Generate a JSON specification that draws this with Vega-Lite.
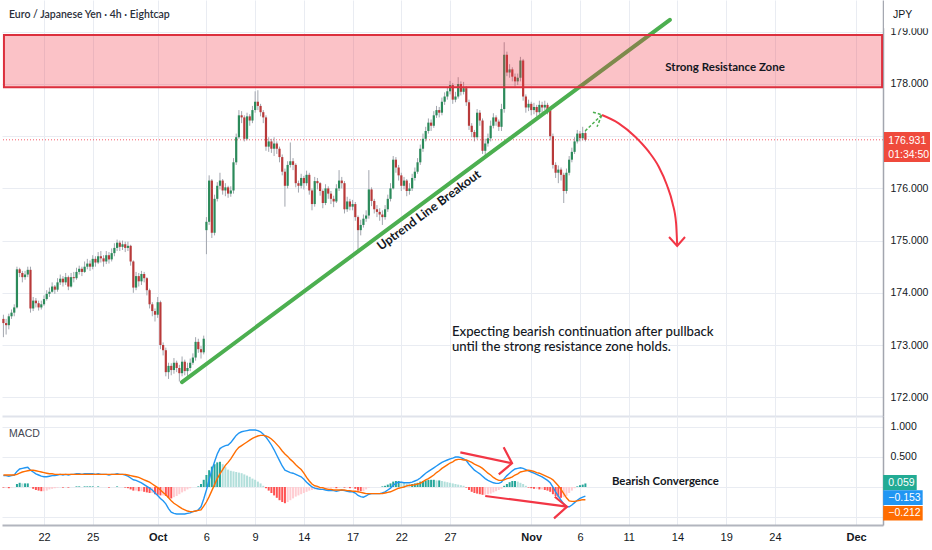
{
"$schema":"https://vega.github.io/schema/vega-lite/v6.json",
"padding":0,
"spacing":0,
"background":"white",
"config":{"view":{"stroke":null},"font":"Liberation Sans, sans-serif","axis":{"labelFont":"Liberation Sans, sans-serif","labelFontSize":10.5,"labelColor":"#131722","ticks":false,"gridColor":"#e9ecf2"}},
"resolve":{"scale":{"x":"independent","y":"independent","color":"independent"}},
"datasets":{"bars":[
{"i":0,"o":173.5,"h":173.58,"l":173.15,"c":173.42,"m":0.19,"s":0.2,"d":-0.01},
{"i":1,"o":173.42,"h":173.5,"l":173.2,"c":173.38,"m":0.19,"s":0.2,"d":-0.01},
{"i":2,"o":173.38,"h":173.6,"l":173.3,"c":173.55,"m":0.18,"s":0.2,"d":-0.02},
{"i":3,"o":173.55,"h":173.68,"l":173.5,"c":173.62,"m":0.19,"s":0.2,"d":-0.01},
{"i":4,"o":173.62,"h":173.78,"l":173.55,"c":173.72,"m":0.2,"s":0.2,"d":0},
{"i":5,"o":173.72,"h":174.5,"l":173.7,"c":174.45,"m":0.26,"s":0.21,"d":0.05},
{"i":6,"o":174.45,"h":174.48,"l":174.3,"c":174.38,"m":0.3,"s":0.23,"d":0.07},
{"i":7,"o":174.38,"h":174.42,"l":174.2,"c":174.3,"m":0.31,"s":0.25,"d":0.06},
{"i":8,"o":174.3,"h":174.42,"l":174.25,"c":174.35,"m":0.32,"s":0.26,"d":0.06},
{"i":9,"o":174.35,"h":174.5,"l":174.3,"c":174.44,"m":0.33,"s":0.27,"d":0.06},
{"i":10,"o":174.44,"h":174.5,"l":173.62,"c":173.7,"m":0.28,"s":0.28,"d":0},
{"i":11,"o":173.7,"h":173.92,"l":173.65,"c":173.85,"m":0.25,"s":0.28,"d":-0.03},
{"i":12,"o":173.85,"h":173.9,"l":173.72,"c":173.8,"m":0.22,"s":0.27,"d":-0.05},
{"i":13,"o":173.8,"h":173.85,"l":173.66,"c":173.72,"m":0.2,"s":0.26,"d":-0.06},
{"i":14,"o":173.72,"h":173.85,"l":173.68,"c":173.78,"m":0.18,"s":0.25,"d":-0.07},
{"i":15,"o":173.78,"h":173.95,"l":173.75,"c":173.88,"m":0.17,"s":0.24,"d":-0.07},
{"i":16,"o":173.88,"h":174.05,"l":173.85,"c":173.98,"m":0.17,"s":0.23,"d":-0.06},
{"i":17,"o":173.98,"h":174.1,"l":173.92,"c":174.02,"m":0.18,"s":0.22,"d":-0.04},
{"i":18,"o":174.02,"h":174.2,"l":174.0,"c":174.12,"m":0.19,"s":0.22,"d":-0.03},
{"i":19,"o":174.12,"h":174.15,"l":173.98,"c":174.06,"m":0.19,"s":0.21,"d":-0.02},
{"i":20,"o":174.06,"h":174.28,"l":174.02,"c":174.2,"m":0.2,"s":0.21,"d":-0.01},
{"i":21,"o":174.2,"h":174.35,"l":174.15,"c":174.27,"m":0.21,"s":0.21,"d":0},
{"i":22,"o":174.27,"h":174.32,"l":174.12,"c":174.2,"m":0.2,"s":0.21,"d":-0.01},
{"i":23,"o":174.2,"h":174.38,"l":174.15,"c":174.3,"m":0.21,"s":0.21,"d":0},
{"i":24,"o":174.3,"h":174.33,"l":174.05,"c":174.12,"m":0.2,"s":0.21,"d":-0.01},
{"i":25,"o":174.12,"h":174.38,"l":174.1,"c":174.3,"m":0.21,"s":0.21,"d":0},
{"i":26,"o":174.3,"h":174.4,"l":174.2,"c":174.28,"m":0.21,"s":0.21,"d":0},
{"i":27,"o":174.28,"h":174.48,"l":174.25,"c":174.4,"m":0.22,"s":0.21,"d":0.01},
{"i":28,"o":174.4,"h":174.52,"l":174.35,"c":174.46,"m":0.22,"s":0.21,"d":0.01},
{"i":29,"o":174.46,"h":174.5,"l":174.32,"c":174.4,"m":0.21,"s":0.21,"d":0},
{"i":30,"o":174.4,"h":174.6,"l":174.38,"c":174.5,"m":0.22,"s":0.21,"d":0.01},
{"i":31,"o":174.5,"h":174.65,"l":174.45,"c":174.56,"m":0.22,"s":0.21,"d":0.01},
{"i":32,"o":174.56,"h":174.62,"l":174.42,"c":174.5,"m":0.22,"s":0.21,"d":0.01},
{"i":33,"o":174.5,"h":174.72,"l":174.45,"c":174.65,"m":0.22,"s":0.21,"d":0.01},
{"i":34,"o":174.65,"h":174.7,"l":174.5,"c":174.58,"m":0.21,"s":0.21,"d":0},
{"i":35,"o":174.58,"h":174.78,"l":174.55,"c":174.7,"m":0.22,"s":0.21,"d":0.01},
{"i":36,"o":174.7,"h":174.8,"l":174.58,"c":174.66,"m":0.21,"s":0.21,"d":0},
{"i":37,"o":174.66,"h":174.72,"l":174.5,"c":174.6,"m":0.21,"s":0.21,"d":0},
{"i":38,"o":174.6,"h":174.8,"l":174.55,"c":174.72,"m":0.21,"s":0.21,"d":0},
{"i":39,"o":174.72,"h":174.78,"l":174.56,"c":174.64,"m":0.2,"s":0.21,"d":-0.01},
{"i":40,"o":174.64,"h":174.85,"l":174.6,"c":174.76,"m":0.21,"s":0.21,"d":0},
{"i":41,"o":174.76,"h":174.95,"l":174.7,"c":174.86,"m":0.21,"s":0.21,"d":0},
{"i":42,"o":174.86,"h":175.02,"l":174.8,"c":174.96,"m":0.22,"s":0.21,"d":0.01},
{"i":43,"o":174.96,"h":175.0,"l":174.8,"c":174.88,"m":0.21,"s":0.21,"d":0},
{"i":44,"o":174.88,"h":175.0,"l":174.82,"c":174.93,"m":0.21,"s":0.21,"d":0},
{"i":45,"o":174.93,"h":174.98,"l":174.78,"c":174.86,"m":0.2,"s":0.21,"d":-0.01},
{"i":46,"o":174.86,"h":174.98,"l":174.8,"c":174.9,"m":0.18,"s":0.2,"d":-0.02},
{"i":47,"o":174.9,"h":174.92,"l":174.52,"c":174.6,"m":0.15,"s":0.19,"d":-0.04},
{"i":48,"o":174.6,"h":174.62,"l":174.0,"c":174.1,"m":0.12,"s":0.18,"d":-0.06},
{"i":49,"o":174.1,"h":174.4,"l":174.05,"c":174.32,"m":0.11,"s":0.17,"d":-0.06},
{"i":50,"o":174.32,"h":174.38,"l":174.12,"c":174.22,"m":0.09,"s":0.16,"d":-0.07},
{"i":51,"o":174.22,"h":174.42,"l":174.15,"c":174.36,"m":0.07,"s":0.14,"d":-0.07},
{"i":52,"o":174.36,"h":174.4,"l":174.2,"c":174.28,"m":0.04,"s":0.12,"d":-0.08},
{"i":53,"o":174.28,"h":174.3,"l":173.95,"c":174.05,"m":0.01,"s":0.1,"d":-0.09},
{"i":54,"o":174.05,"h":174.08,"l":173.7,"c":173.78,"m":-0.02,"s":0.08,"d":-0.1},
{"i":55,"o":173.78,"h":173.82,"l":173.55,"c":173.65,"m":-0.05,"s":0.05,"d":-0.1},
{"i":56,"o":173.65,"h":173.7,"l":173.45,"c":173.58,"m":-0.1,"s":0.02,"d":-0.12},
{"i":57,"o":173.58,"h":173.92,"l":173.52,"c":173.82,"m":-0.14,"s":-0.01,"d":-0.13},
{"i":58,"o":173.82,"h":173.85,"l":172.92,"c":173.0,"m":-0.19,"s":-0.05,"d":-0.14},
{"i":59,"o":173.0,"h":173.05,"l":172.8,"c":172.9,"m":-0.23,"s":-0.09,"d":-0.14},
{"i":60,"o":172.9,"h":172.95,"l":172.4,"c":172.48,"m":-0.28,"s":-0.13,"d":-0.15},
{"i":61,"o":172.48,"h":172.66,"l":172.35,"c":172.6,"m":-0.36,"s":-0.18,"d":-0.18},
{"i":62,"o":172.6,"h":172.65,"l":172.42,"c":172.52,"m":-0.42,"s":-0.23,"d":-0.19},
{"i":63,"o":172.52,"h":172.75,"l":172.45,"c":172.66,"m":-0.44,"s":-0.27,"d":-0.17},
{"i":64,"o":172.66,"h":172.7,"l":172.48,"c":172.56,"m":-0.45,"s":-0.3,"d":-0.15},
{"i":65,"o":172.56,"h":172.62,"l":172.3,"c":172.46,"m":-0.45,"s":-0.33,"d":-0.12},
{"i":66,"o":172.46,"h":172.78,"l":172.4,"c":172.68,"m":-0.45,"s":-0.36,"d":-0.09},
{"i":67,"o":172.68,"h":172.72,"l":172.42,"c":172.5,"m":-0.45,"s":-0.38,"d":-0.07},
{"i":68,"o":172.5,"h":172.66,"l":172.38,"c":172.56,"m":-0.44,"s":-0.4,"d":-0.04},
{"i":69,"o":172.56,"h":172.74,"l":172.5,"c":172.66,"m":-0.43,"s":-0.41,"d":-0.02},
{"i":70,"o":172.66,"h":172.84,"l":172.62,"c":172.76,"m":-0.41,"s":-0.41,"d":0},
{"i":71,"o":172.76,"h":173.15,"l":172.7,"c":173.06,"m":-0.4,"s":-0.4,"d":0},
{"i":72,"o":173.06,"h":173.12,"l":172.85,"c":172.92,"m":-0.38,"s":-0.39,"d":0.01},
{"i":73,"o":172.92,"h":172.98,"l":172.74,"c":172.86,"m":-0.33,"s":-0.38,"d":0.05},
{"i":74,"o":172.86,"h":173.18,"l":172.82,"c":173.12,"m":-0.2,"s":-0.32,"d":0.12},
{"i":75,"o":175.2,"h":175.45,"l":174.74,"c":175.36,"m":-0.05,"s":-0.25,"d":0.2},
{"i":76,"o":175.36,"h":176.25,"l":175.3,"c":176.15,"m":0.12,"s":-0.16,"d":0.28},
{"i":77,"o":176.15,"h":176.18,"l":175.05,"c":175.15,"m":0.28,"s":-0.06,"d":0.34},
{"i":78,"o":175.15,"h":175.88,"l":175.1,"c":175.8,"m":0.42,"s":0.04,"d":0.38},
{"i":79,"o":175.8,"h":176.12,"l":175.75,"c":176.05,"m":0.55,"s":0.14,"d":0.41},
{"i":80,"o":176.05,"h":176.3,"l":175.98,"c":176.15,"m":0.64,"s":0.22,"d":0.42},
{"i":81,"o":176.15,"h":176.18,"l":175.88,"c":175.96,"m":0.67,"s":0.29,"d":0.38},
{"i":82,"o":175.96,"h":176.1,"l":175.85,"c":176.02,"m":0.69,"s":0.36,"d":0.33},
{"i":83,"o":176.02,"h":176.05,"l":175.82,"c":175.9,"m":0.7,"s":0.41,"d":0.29},
{"i":84,"o":175.9,"h":176.04,"l":175.84,"c":175.96,"m":0.74,"s":0.47,"d":0.27},
{"i":85,"o":175.96,"h":176.58,"l":175.9,"c":176.5,"m":0.8,"s":0.54,"d":0.26},
{"i":86,"o":176.5,"h":177.05,"l":176.45,"c":176.98,"m":0.86,"s":0.61,"d":0.25},
{"i":87,"o":176.98,"h":177.5,"l":176.95,"c":177.4,"m":0.9,"s":0.66,"d":0.24},
{"i":88,"o":177.4,"h":177.48,"l":177.25,"c":177.36,"m":0.92,"s":0.69,"d":0.23},
{"i":89,"o":177.36,"h":177.4,"l":176.9,"c":176.95,"m":0.93,"s":0.72,"d":0.21},
{"i":90,"o":176.95,"h":177.45,"l":176.92,"c":177.38,"m":0.94,"s":0.75,"d":0.19},
{"i":91,"o":177.38,"h":177.42,"l":177.2,"c":177.3,"m":0.95,"s":0.78,"d":0.17},
{"i":92,"o":177.3,"h":177.58,"l":177.25,"c":177.5,"m":0.95,"s":0.81,"d":0.14},
{"i":93,"o":177.5,"h":177.86,"l":177.45,"c":177.66,"m":0.95,"s":0.83,"d":0.12},
{"i":94,"o":177.66,"h":177.88,"l":177.5,"c":177.58,"m":0.94,"s":0.85,"d":0.09},
{"i":95,"o":177.58,"h":177.62,"l":177.38,"c":177.46,"m":0.92,"s":0.86,"d":0.06},
{"i":96,"o":177.46,"h":177.5,"l":177.25,"c":177.36,"m":0.88,"s":0.86,"d":0.02},
{"i":97,"o":177.36,"h":177.4,"l":176.72,"c":176.8,"m":0.83,"s":0.85,"d":-0.02},
{"i":98,"o":176.8,"h":176.98,"l":176.7,"c":176.9,"m":0.77,"s":0.83,"d":-0.06},
{"i":99,"o":176.9,"h":176.95,"l":176.68,"c":176.76,"m":0.7,"s":0.8,"d":-0.1},
{"i":100,"o":176.76,"h":176.98,"l":176.62,"c":176.86,"m":0.62,"s":0.76,"d":-0.14},
{"i":101,"o":176.86,"h":176.9,"l":176.66,"c":176.76,"m":0.53,"s":0.71,"d":-0.18},
{"i":102,"o":176.76,"h":176.8,"l":176.5,"c":176.6,"m":0.44,"s":0.66,"d":-0.22},
{"i":103,"o":176.6,"h":176.65,"l":176.25,"c":176.32,"m":0.35,"s":0.6,"d":-0.25},
{"i":104,"o":176.32,"h":176.38,"l":175.65,"c":176.05,"m":0.28,"s":0.55,"d":-0.27},
{"i":105,"o":176.05,"h":176.52,"l":176.0,"c":176.45,"m":0.26,"s":0.51,"d":-0.25},
{"i":106,"o":176.45,"h":176.88,"l":176.4,"c":176.52,"m":0.24,"s":0.46,"d":-0.22},
{"i":107,"o":176.52,"h":176.58,"l":176.35,"c":176.45,"m":0.23,"s":0.42,"d":-0.19},
{"i":108,"o":176.45,"h":176.48,"l":176.02,"c":176.1,"m":0.21,"s":0.37,"d":-0.16},
{"i":109,"o":176.1,"h":176.15,"l":175.92,"c":176.05,"m":0.19,"s":0.33,"d":-0.14},
{"i":110,"o":176.05,"h":176.28,"l":176.0,"c":176.2,"m":0.17,"s":0.29,"d":-0.12},
{"i":111,"o":176.2,"h":176.24,"l":175.98,"c":176.1,"m":0.13,"s":0.23,"d":-0.1},
{"i":112,"o":176.1,"h":176.34,"l":176.05,"c":176.26,"m":0.08,"s":0.16,"d":-0.08},
{"i":113,"o":176.26,"h":176.3,"l":175.88,"c":175.96,"m":0.04,"s":0.1,"d":-0.06},
{"i":114,"o":175.96,"h":176.0,"l":175.58,"c":175.7,"m":0,"s":0.05,"d":-0.05},
{"i":115,"o":175.7,"h":176.22,"l":175.65,"c":176.14,"m":-0.02,"s":0.02,"d":-0.04},
{"i":116,"o":176.14,"h":176.2,"l":175.98,"c":176.1,"m":-0.03,"s":0.01,"d":-0.04},
{"i":117,"o":176.1,"h":176.12,"l":175.86,"c":175.95,"m":-0.04,"s":-0.01,"d":-0.03},
{"i":118,"o":175.95,"h":175.98,"l":175.62,"c":175.72,"m":-0.04,"s":-0.01,"d":-0.03},
{"i":119,"o":175.72,"h":176.08,"l":175.68,"c":176.0,"m":-0.05,"s":-0.03,"d":-0.02},
{"i":120,"o":176.0,"h":176.04,"l":175.8,"c":175.9,"m":-0.06,"s":-0.04,"d":-0.02},
{"i":121,"o":175.9,"h":175.95,"l":175.7,"c":175.8,"m":-0.06,"s":-0.04,"d":-0.02},
{"i":122,"o":175.8,"h":175.86,"l":175.64,"c":175.75,"m":-0.06,"s":-0.05,"d":-0.01},
{"i":123,"o":175.75,"h":176.08,"l":175.72,"c":176.0,"m":-0.07,"s":-0.05,"d":-0.02},
{"i":124,"o":176.0,"h":176.35,"l":175.95,"c":176.15,"m":-0.06,"s":-0.05,"d":-0.01},
{"i":125,"o":176.15,"h":176.22,"l":176.0,"c":176.1,"m":-0.05,"s":-0.05,"d":0},
{"i":126,"o":176.1,"h":176.14,"l":175.52,"c":175.6,"m":-0.06,"s":-0.05,"d":-0.01},
{"i":127,"o":175.6,"h":175.84,"l":175.55,"c":175.75,"m":-0.07,"s":-0.06,"d":-0.01},
{"i":128,"o":175.75,"h":175.8,"l":175.58,"c":175.65,"m":-0.08,"s":-0.06,"d":-0.02},
{"i":129,"o":175.65,"h":175.78,"l":175.58,"c":175.7,"m":-0.08,"s":-0.07,"d":-0.01},
{"i":130,"o":175.7,"h":175.74,"l":175.38,"c":175.45,"m":-0.1,"s":-0.07,"d":-0.03},
{"i":131,"o":175.45,"h":175.48,"l":174.8,"c":175.2,"m":-0.14,"s":-0.08,"d":-0.06},
{"i":132,"o":175.2,"h":175.4,"l":175.1,"c":175.3,"m":-0.16,"s":-0.09,"d":-0.07},
{"i":133,"o":175.3,"h":175.5,"l":175.25,"c":175.42,"m":-0.17,"s":-0.1,"d":-0.07},
{"i":134,"o":175.42,"h":175.58,"l":175.36,"c":175.48,"m":-0.15,"s":-0.11,"d":-0.04},
{"i":135,"o":175.48,"h":176.35,"l":175.42,"c":175.98,"m":-0.12,"s":-0.11,"d":-0.01},
{"i":136,"o":175.98,"h":176.02,"l":175.66,"c":175.76,"m":-0.11,"s":-0.11,"d":0},
{"i":137,"o":175.76,"h":175.8,"l":175.52,"c":175.6,"m":-0.11,"s":-0.11,"d":0},
{"i":138,"o":175.6,"h":175.68,"l":175.45,"c":175.55,"m":-0.11,"s":-0.11,"d":0},
{"i":139,"o":175.55,"h":175.62,"l":175.38,"c":175.5,"m":-0.11,"s":-0.11,"d":0},
{"i":140,"o":175.5,"h":175.58,"l":175.3,"c":175.45,"m":-0.1,"s":-0.11,"d":0.01},
{"i":141,"o":175.45,"h":175.68,"l":175.4,"c":175.6,"m":-0.08,"s":-0.1,"d":0.02},
{"i":142,"o":175.6,"h":175.88,"l":175.55,"c":175.8,"m":-0.05,"s":-0.09,"d":0.04},
{"i":143,"o":175.8,"h":176.1,"l":175.75,"c":176.0,"m":-0.02,"s":-0.08,"d":0.06},
{"i":144,"o":176.0,"h":176.62,"l":175.98,"c":176.55,"m":0.03,"s":-0.06,"d":0.09},
{"i":145,"o":176.55,"h":176.6,"l":176.3,"c":176.4,"m":0.06,"s":-0.04,"d":0.1},
{"i":146,"o":176.4,"h":176.45,"l":176.15,"c":176.25,"m":0.08,"s":-0.02,"d":0.1},
{"i":147,"o":176.25,"h":176.3,"l":175.95,"c":176.05,"m":0.08,"s":-0.01,"d":0.09},
{"i":148,"o":176.05,"h":176.22,"l":175.98,"c":176.15,"m":0.07,"s":0,"d":0.07},
{"i":149,"o":176.15,"h":176.18,"l":175.85,"c":175.95,"m":0.07,"s":0.02,"d":0.05},
{"i":150,"o":175.95,"h":176.1,"l":175.88,"c":176.0,"m":0.07,"s":0.03,"d":0.04},
{"i":151,"o":176.0,"h":176.28,"l":175.95,"c":176.2,"m":0.08,"s":0.03,"d":0.05},
{"i":152,"o":176.2,"h":176.4,"l":176.15,"c":176.32,"m":0.1,"s":0.04,"d":0.06},
{"i":153,"o":176.32,"h":176.58,"l":176.28,"c":176.5,"m":0.12,"s":0.05,"d":0.07},
{"i":154,"o":176.5,"h":176.84,"l":176.45,"c":176.76,"m":0.15,"s":0.06,"d":0.09},
{"i":155,"o":176.76,"h":177.05,"l":176.7,"c":176.95,"m":0.19,"s":0.09,"d":0.1},
{"i":156,"o":176.95,"h":177.18,"l":176.9,"c":177.1,"m":0.23,"s":0.12,"d":0.11},
{"i":157,"o":177.1,"h":177.34,"l":177.05,"c":177.26,"m":0.26,"s":0.14,"d":0.12},
{"i":158,"o":177.26,"h":177.32,"l":177.1,"c":177.2,"m":0.29,"s":0.17,"d":0.12},
{"i":159,"o":177.2,"h":177.48,"l":177.16,"c":177.4,"m":0.32,"s":0.2,"d":0.12},
{"i":160,"o":177.4,"h":177.58,"l":177.35,"c":177.5,"m":0.35,"s":0.24,"d":0.11},
{"i":161,"o":177.5,"h":177.56,"l":177.36,"c":177.45,"m":0.38,"s":0.27,"d":0.11},
{"i":162,"o":177.45,"h":177.74,"l":177.4,"c":177.66,"m":0.41,"s":0.31,"d":0.1},
{"i":163,"o":177.66,"h":177.84,"l":177.6,"c":177.76,"m":0.43,"s":0.34,"d":0.09},
{"i":164,"o":177.76,"h":177.94,"l":177.7,"c":177.86,"m":0.45,"s":0.37,"d":0.08},
{"i":165,"o":177.86,"h":178.06,"l":177.8,"c":177.98,"m":0.47,"s":0.4,"d":0.07},
{"i":166,"o":177.98,"h":178.02,"l":177.62,"c":177.7,"m":0.48,"s":0.42,"d":0.06},
{"i":167,"o":177.7,"h":177.85,"l":177.65,"c":177.76,"m":0.5,"s":0.45,"d":0.05},
{"i":168,"o":177.76,"h":178.13,"l":177.72,"c":178.0,"m":0.5,"s":0.46,"d":0.04},
{"i":169,"o":178.0,"h":178.05,"l":177.78,"c":177.85,"m":0.49,"s":0.46,"d":0.03},
{"i":170,"o":177.85,"h":178.04,"l":177.8,"c":177.92,"m":0.47,"s":0.45,"d":0.02},
{"i":171,"o":177.92,"h":177.96,"l":177.58,"c":177.65,"m":0.44,"s":0.45,"d":-0.01},
{"i":172,"o":177.65,"h":177.7,"l":177.12,"c":177.2,"m":0.38,"s":0.43,"d":-0.05},
{"i":173,"o":177.2,"h":177.25,"l":176.98,"c":177.08,"m":0.33,"s":0.41,"d":-0.08},
{"i":174,"o":177.08,"h":177.12,"l":176.9,"c":176.98,"m":0.28,"s":0.38,"d":-0.1},
{"i":175,"o":176.98,"h":177.52,"l":176.94,"c":177.45,"m":0.25,"s":0.36,"d":-0.11},
{"i":176,"o":177.45,"h":177.5,"l":177.2,"c":177.3,"m":0.22,"s":0.34,"d":-0.12},
{"i":177,"o":177.3,"h":177.34,"l":176.66,"c":176.72,"m":0.18,"s":0.31,"d":-0.13},
{"i":178,"o":176.72,"h":176.95,"l":176.62,"c":176.86,"m":0.14,"s":0.27,"d":-0.13},
{"i":179,"o":176.86,"h":177.05,"l":176.8,"c":176.96,"m":0.11,"s":0.23,"d":-0.12},
{"i":180,"o":176.96,"h":177.3,"l":176.9,"c":177.2,"m":0.09,"s":0.2,"d":-0.11},
{"i":181,"o":177.2,"h":177.44,"l":177.15,"c":177.36,"m":0.07,"s":0.16,"d":-0.09},
{"i":182,"o":177.36,"h":177.4,"l":177.2,"c":177.28,"m":0.06,"s":0.13,"d":-0.07},
{"i":183,"o":177.28,"h":177.32,"l":177.1,"c":177.18,"m":0.06,"s":0.11,"d":-0.05},
{"i":184,"o":177.18,"h":177.62,"l":177.1,"c":177.52,"m":0.08,"s":0.11,"d":-0.03},
{"i":185,"o":177.52,"h":178.8,"l":177.45,"c":178.56,"m":0.14,"s":0.12,"d":0.02},
{"i":186,"o":178.56,"h":178.62,"l":178.15,"c":178.22,"m":0.19,"s":0.14,"d":0.05},
{"i":187,"o":178.22,"h":178.38,"l":178.12,"c":178.28,"m":0.23,"s":0.15,"d":0.08},
{"i":188,"o":178.28,"h":178.32,"l":178.05,"c":178.14,"m":0.27,"s":0.17,"d":0.1},
{"i":189,"o":178.14,"h":178.2,"l":177.95,"c":178.05,"m":0.3,"s":0.2,"d":0.1},
{"i":190,"o":178.05,"h":178.2,"l":177.98,"c":178.12,"m":0.31,"s":0.22,"d":0.09},
{"i":191,"o":178.12,"h":178.52,"l":178.05,"c":178.45,"m":0.32,"s":0.25,"d":0.07},
{"i":192,"o":178.45,"h":178.48,"l":177.68,"c":177.76,"m":0.31,"s":0.26,"d":0.05},
{"i":193,"o":177.76,"h":177.8,"l":177.45,"c":177.55,"m":0.29,"s":0.27,"d":0.02},
{"i":194,"o":177.55,"h":177.7,"l":177.48,"c":177.62,"m":0.27,"s":0.28,"d":-0.01},
{"i":195,"o":177.62,"h":177.66,"l":177.4,"c":177.5,"m":0.25,"s":0.27,"d":-0.02},
{"i":196,"o":177.5,"h":177.64,"l":177.42,"c":177.56,"m":0.23,"s":0.26,"d":-0.03},
{"i":197,"o":177.56,"h":177.6,"l":177.38,"c":177.46,"m":0.21,"s":0.24,"d":-0.03},
{"i":198,"o":177.46,"h":177.68,"l":177.42,"c":177.6,"m":0.19,"s":0.23,"d":-0.04},
{"i":199,"o":177.6,"h":177.66,"l":177.45,"c":177.55,"m":0.17,"s":0.21,"d":-0.04},
{"i":200,"o":177.55,"h":177.68,"l":177.5,"c":177.6,"m":0.14,"s":0.19,"d":-0.05},
{"i":201,"o":177.6,"h":177.64,"l":177.42,"c":177.5,"m":0.11,"s":0.17,"d":-0.06},
{"i":202,"o":177.5,"h":177.55,"l":176.92,"c":177.0,"m":0.07,"s":0.15,"d":-0.08},
{"i":203,"o":177.0,"h":177.05,"l":176.38,"c":176.45,"m":0,"s":0.12,"d":-0.12},
{"i":204,"o":176.45,"h":176.5,"l":176.2,"c":176.3,"m":-0.08,"s":0.07,"d":-0.15},
{"i":205,"o":176.3,"h":176.44,"l":176.1,"c":176.36,"m":-0.15,"s":0.02,"d":-0.17},
{"i":206,"o":176.36,"h":176.4,"l":176.15,"c":176.26,"m":-0.22,"s":-0.04,"d":-0.18},
{"i":207,"o":176.26,"h":176.3,"l":175.72,"c":175.95,"m":-0.28,"s":-0.11,"d":-0.17},
{"i":208,"o":175.95,"h":176.38,"l":175.9,"c":176.3,"m":-0.33,"s":-0.18,"d":-0.15},
{"i":209,"o":176.3,"h":176.62,"l":176.25,"c":176.55,"m":-0.33,"s":-0.23,"d":-0.1},
{"i":210,"o":176.55,"h":176.78,"l":176.5,"c":176.7,"m":-0.3,"s":-0.24,"d":-0.06},
{"i":211,"o":176.7,"h":176.98,"l":176.66,"c":176.9,"m":-0.26,"s":-0.24,"d":-0.02},
{"i":212,"o":176.9,"h":177.12,"l":176.86,"c":177.05,"m":-0.22,"s":-0.23,"d":0.01},
{"i":213,"o":177.05,"h":177.1,"l":176.9,"c":176.96,"m":-0.19,"s":-0.22,"d":0.03},
{"i":214,"o":176.96,"h":177.18,"l":176.92,"c":177.06,"m":-0.17,"s":-0.21,"d":0.04},
{"i":215,"o":177.06,"h":177.1,"l":176.9,"c":176.931,"m":-0.153,"s":-0.212,"d":0.059}
]},
"vconcat":[
{"width":881,"height":416,
"resolve":{"axis":{"x":"independent","y":"independent"}},
"layer":[
{"data":{"name":"bars"},"mark":{"type":"rule","color":"#a2a6ae","strokeWidth":1},
"encoding":{
"x":{"field":"i","type":"quantitative","title":null,"scale":{"domain":[-0.52,324.94],"nice":false,"zero":false},"axis":{"values":[15,33,57,75,93,111,129,147,165,195,213,231,249,267,285,315],"labels":false,"ticks":false,"grid":true,"domain":true,"domainColor":"#e0e3eb","domainWidth":2,"title":null}},
"y":{"field":"l","type":"quantitative","title":null,"scale":{"domain":[171.64,179.609],"nice":false,"zero":false},"axis":{"orient":"right","values":[172,173,174,175,176,177,178,179],"labelExpr":"datum.value==177 ? '' : format(datum.value,'.3f')","grid":true,"labelPadding":7,"domain":true,"domainColor":"#a3a6af","domainWidth":1.5,"title":null}},
"y2":{"field":"h"}}},
{"data":{"values":[{}]},"mark":{"type":"rule","color":"#f23645","strokeDash":[1,2],"strokeWidth":1,"opacity":0.8},
"encoding":{"y":{"datum":176.931,"type":"quantitative","scale":{"domain":[171.64,179.609],"nice":false,"zero":false},"axis":null}}},
{"data":{"name":"bars"},"mark":{"type":"rule","strokeWidth":2.2},
"encoding":{
"x":{"field":"i","type":"quantitative","scale":{"domain":[-0.52,324.94],"nice":false,"zero":false},"axis":null},
"y":{"field":"o","type":"quantitative","scale":{"domain":[171.64,179.609],"nice":false,"zero":false},"axis":null},
"y2":{"field":"c"},
"color":{"condition":{"test":"datum.c>=datum.o","value":"#2b8a5a"},"value":"#b83a3a"}}},
{"data":{"values":[{"x":65.98,"y":172.29},{"x":246.2,"y":179.23}]},"mark":{"type":"line","color":"#4caf50","strokeWidth":4,"strokeCap":"round"},
"encoding":{
"x":{"field":"x","type":"quantitative","scale":{"domain":[-0.52,324.94],"nice":false,"zero":false},"axis":null},
"y":{"field":"y","type":"quantitative","scale":{"domain":[171.64,179.609],"nice":false,"zero":false},"axis":null}}},
{"data":{"values":[{"x":0.2,"x2":324.6,"y":177.94,"y2":178.94}]},"mark":{"type":"rect","fill":"#f23645","fillOpacity":0.3,"stroke":"#dc2f3d","strokeWidth":2},
"encoding":{
"x":{"field":"x","type":"quantitative","scale":{"domain":[-0.52,324.94],"nice":false,"zero":false},"axis":null},
"x2":{"field":"x2"},
"y":{"field":"y","type":"quantitative","scale":{"domain":[171.64,179.609],"nice":false,"zero":false},"axis":null},
"y2":{"field":"y2"}}},
{"data":{"values":[{"g":"a","k":0,"x":214.9,"y":177.1},{"g":"a","k":1,"x":221.1,"y":177.41},{"g":"b","k":0,"x":217.8,"y":177.46},{"g":"b","k":1,"x":221.1,"y":177.41},{"g":"b","k":2,"x":219.3,"y":177.18}]},
"mark":{"type":"line","color":"#4caf50","strokeWidth":1.5,"strokeDash":[3,2]},
"encoding":{
"x":{"field":"x","type":"quantitative","scale":{"domain":[-0.52,324.94],"nice":false,"zero":false},"axis":null},
"y":{"field":"y","type":"quantitative","scale":{"domain":[171.64,179.609],"nice":false,"zero":false},"axis":null},
"detail":{"field":"g"},"order":{"field":"k"}}},
{"data":{"values":[{"k":0,"x":221.13,"y":177.406},{"k":1,"x":227.3,"y":177.247},{"k":2,"x":233.4,"y":176.99},{"k":3,"x":238.4,"y":176.703},{"k":4,"x":242.1,"y":176.416},{"k":5,"x":245.1,"y":176.065},{"k":6,"x":247.2,"y":175.715},{"k":7,"x":248.5,"y":175.332},{"k":8,"x":248.9,"y":174.92}]},
"mark":{"type":"line","color":"#f23645","strokeWidth":2,"interpolate":"monotone"},
"encoding":{
"x":{"field":"x","type":"quantitative","scale":{"domain":[-0.52,324.94],"nice":false,"zero":false},"axis":null},
"y":{"field":"y","type":"quantitative","scale":{"domain":[171.64,179.609],"nice":false,"zero":false},"axis":null},
"order":{"field":"k"}}},
{"data":{"values":[{"k":0,"x":245.9,"y":175.069},{"k":1,"x":248.9,"y":174.897},{"k":2,"x":251.8,"y":175.069}]},
"mark":{"type":"line","color":"#f23645","strokeWidth":2},
"encoding":{
"x":{"field":"x","type":"quantitative","scale":{"domain":[-0.52,324.94],"nice":false,"zero":false},"axis":null},
"y":{"field":"y","type":"quantitative","scale":{"domain":[171.64,179.609],"nice":false,"zero":false},"axis":null},
"order":{"field":"k"}}},
{"data":{"values":[{"x":2.07,"y":179.32,"t":"Euro / Japanese Yen · 4h · Eightcap"}]},
"mark":{"type":"text","align":"left","baseline":"middle","fontSize":10.5,"font":"Lato","fontWeight":600,"color":"#2a2e39"},
"encoding":{
"x":{"field":"x","type":"quantitative","scale":{"domain":[-0.52,324.94],"nice":false,"zero":false},"axis":null},
"y":{"field":"y","type":"quantitative","scale":{"domain":[171.64,179.609],"nice":false,"zero":false},"axis":null},
"text":{"field":"t"}}},
{"data":{"values":[{"x":266.6,"y":178.31,"t":"Strong Resistance Zone"}]},
"mark":{"type":"text","align":"center","baseline":"middle","fontSize":11.5,"font":"Lato","fontWeight":"bold","color":"#131722"},
"encoding":{
"x":{"field":"x","type":"quantitative","scale":{"domain":[-0.52,324.94],"nice":false,"zero":false},"axis":null},
"y":{"field":"y","type":"quantitative","scale":{"domain":[171.64,179.609],"nice":false,"zero":false},"axis":null},
"text":{"field":"t"}}},
{"data":{"values":[{"x":157.2,"y":175.58,"t":"Uptrend Line Breakout"}]},
"mark":{"type":"text","align":"center","baseline":"middle","fontSize":12.4,"font":"Lato","fontWeight":"bold","angle":-36.6,"color":"#131722"},
"encoding":{
"x":{"field":"x","type":"quantitative","scale":{"domain":[-0.52,324.94],"nice":false,"zero":false},"axis":null},
"y":{"field":"y","type":"quantitative","scale":{"domain":[171.64,179.609],"nice":false,"zero":false},"axis":null},
"text":{"field":"t"}}},
{"data":{"values":[{"x":165.7,"y":173.25,"t":"Expecting bearish continuation after pullback"},{"x":165.7,"y":172.965,"t":"until the strong resistance zone holds."}]},
"mark":{"type":"text","align":"left","baseline":"middle","fontSize":13.2,"font":"Lato","fontWeight":500,"color":"#131722"},
"encoding":{
"x":{"field":"x","type":"quantitative","scale":{"domain":[-0.52,324.94],"nice":false,"zero":false},"axis":null},
"y":{"field":"y","type":"quantitative","scale":{"domain":[171.64,179.609],"nice":false,"zero":false},"axis":null},
"text":{"field":"t"}}},
{"data":{"values":[{"x":325.3,"x2":342.3,"y":176.506,"y2":177.08},{"x":325.3,"x2":343.7,"y":179.07,"y2":179.609}]},
"mark":{"type":"rect"},
"encoding":{
"x":{"field":"x","type":"quantitative","scale":{"domain":[-0.52,324.94],"nice":false,"zero":false},"axis":null},
"x2":{"field":"x2"},
"y":{"field":"y","type":"quantitative","scale":{"domain":[171.64,179.609],"nice":false,"zero":false},"axis":null},
"y2":{"field":"y2"},
"color":{"condition":{"test":"datum.y>179","value":"#ffffff"},"value":"#ef4a3c"}}},
{"data":{"values":[{"x":326.9,"y":176.908,"t":"176.931"},{"x":326.9,"y":176.64,"t":"01:34:50"},{"x":328.6,"y":179.33,"t":"JPY"}]},
"mark":{"type":"text","align":"left","baseline":"middle","fontSize":10.5},
"encoding":{
"x":{"field":"x","type":"quantitative","scale":{"domain":[-0.52,324.94],"nice":false,"zero":false},"axis":null},
"y":{"field":"y","type":"quantitative","scale":{"domain":[171.64,179.609],"nice":false,"zero":false},"axis":null},
"text":{"field":"t"},
"color":{"condition":{"test":"datum.t=='JPY'","value":"#131722"},"value":"#ffffff"}}}
]},
{"width":881,"height":109,
"resolve":{"axis":{"x":"independent","y":"independent"}},
"layer":[
{"data":{"name":"bars"},
"transform":[{"window":[{"op":"lag","field":"d","as":"pd"}],"sort":[{"field":"i","order":"ascending"}]}],
"mark":{"type":"rule","strokeWidth":2},
"encoding":{
"x":{"field":"i","type":"quantitative","title":null,"scale":{"domain":[-0.52,324.94],"nice":false,"zero":false},
"axis":{"values":[15,33,57,75,93,111,129,147,165,195,213,231,249,267,285,315],
"labelExpr":"['22','25','Oct','6','9','14','17','22','27','Nov','6','11','14','19','24','Dec'][indexof([15,33,57,75,93,111,129,147,165,195,213,231,249,267,285,315], datum.value)]",
"labelFontWeight":{"condition":{"test":"datum.value==57||datum.value==195||datum.value==315","value":"bold"},"value":"normal"},
"grid":true,"domain":true,"domainColor":"#b2b5be","domainWidth":2,"labelPadding":6,"labelFontSize":11,"title":null}},
"y":{"field":"d","type":"quantitative","title":null,"scale":{"domain":[-0.633,1.183],"nice":false,"zero":false},
"axis":{"orient":"right","values":[-0.5,0,0.5,1],"labelExpr":"datum.value>0 ? format(datum.value,'.3f') : ''","grid":true,"labelPadding":7,"domain":true,"domainColor":"#a3a6af","domainWidth":1.5,"title":null}},
"y2":{"datum":0},
"color":{"condition":[{"test":"datum.d>=0 && datum.d>=datum.pd","value":"#26a69a"},{"test":"datum.d>=0","value":"#b2dfdb"},{"test":"datum.d<datum.pd","value":"#ff5252"}],"value":"#ffcdd2"}}},
{"data":{"name":"bars"},"mark":{"type":"line","color":"#2196f3","strokeWidth":1.4},
"encoding":{
"x":{"field":"i","type":"quantitative","scale":{"domain":[-0.52,324.94],"nice":false,"zero":false},"axis":null},
"y":{"field":"m","type":"quantitative","scale":{"domain":[-0.633,1.183],"nice":false,"zero":false},"axis":null}}},
{"data":{"name":"bars"},"mark":{"type":"line","color":"#ff6d00","strokeWidth":1.4},
"encoding":{
"x":{"field":"i","type":"quantitative","scale":{"domain":[-0.52,324.94],"nice":false,"zero":false},"axis":null},
"y":{"field":"s","type":"quantitative","scale":{"domain":[-0.633,1.183],"nice":false,"zero":false},"axis":null}}},
{"data":{"values":[{"g":"a","k":0,"x":168.8,"y":0.578},{"g":"a","k":1,"x":187.9,"y":0.395},{"g":"b","k":0,"x":184.8,"y":0.662},{"g":"b","k":1,"x":187.9,"y":0.395},{"g":"b","k":2,"x":183.0,"y":0.212},{"g":"c","k":0,"x":178.0,"y":-0.15},{"g":"c","k":1,"x":208.2,"y":-0.328},{"g":"d","k":0,"x":203.7,"y":-0.162},{"g":"d","k":1,"x":208.2,"y":-0.328},{"g":"d","k":2,"x":203.4,"y":-0.522}]},
"mark":{"type":"line","color":"#f23645","strokeWidth":2.2},
"encoding":{
"x":{"field":"x","type":"quantitative","scale":{"domain":[-0.52,324.94],"nice":false,"zero":false},"axis":null},
"y":{"field":"y","type":"quantitative","scale":{"domain":[-0.633,1.183],"nice":false,"zero":false},"axis":null},
"detail":{"field":"g"},"order":{"field":"k"}}},
{"data":{"values":[{"x":2.07,"y":0.875,"t":"MACD"}]},
"mark":{"type":"text","align":"left","baseline":"middle","fontSize":10.5,"color":"#434651"},
"encoding":{
"x":{"field":"x","type":"quantitative","scale":{"domain":[-0.52,324.94],"nice":false,"zero":false},"axis":null},
"y":{"field":"y","type":"quantitative","scale":{"domain":[-0.633,1.183],"nice":false,"zero":false},"axis":null},
"text":{"field":"t"}}},
{"data":{"values":[{"x":224.8,"y":0.083,"t":"Bearish Convergence"}]},
"mark":{"type":"text","align":"left","baseline":"middle","fontSize":11.4,"font":"Lato","fontWeight":"bold","color":"#131722"},
"encoding":{
"x":{"field":"x","type":"quantitative","scale":{"domain":[-0.52,324.94],"nice":false,"zero":false},"axis":null},
"y":{"field":"y","type":"quantitative","scale":{"domain":[-0.633,1.183],"nice":false,"zero":false},"axis":null},
"text":{"field":"t"}}},
{"data":{"values":[{"k":"hist","x":325.0,"x2":337.4,"y":-0.055,"y2":0.2},{"k":"macd","x":325.0,"x2":339.6,"y":-0.3,"y2":-0.055},{"k":"signal","x":325.0,"x2":339.6,"y":-0.56,"y2":-0.315}]},
"mark":{"type":"rect"},
"encoding":{
"x":{"field":"x","type":"quantitative","scale":{"domain":[-0.52,324.94],"nice":false,"zero":false},"axis":null},
"x2":{"field":"x2"},
"y":{"field":"y","type":"quantitative","scale":{"domain":[-0.633,1.183],"nice":false,"zero":false},"axis":null},
"y2":{"field":"y2"},
"color":{"field":"k","type":"nominal","scale":{"domain":["hist","macd","signal"],"range":["#22ab94","#2196f3","#ff6d00"]},"legend":null}}},
{"data":{"values":[{"x":326.9,"y":0.07,"t":"0.059"},{"x":326.9,"y":-0.178,"t":"\u22120.153"},{"x":326.9,"y":-0.44,"t":"\u22120.212"}]},
"mark":{"type":"text","align":"left","baseline":"middle","fontSize":10.5,"color":"#ffffff"},
"encoding":{
"x":{"field":"x","type":"quantitative","scale":{"domain":[-0.52,324.94],"nice":false,"zero":false},"axis":null},
"y":{"field":"y","type":"quantitative","scale":{"domain":[-0.633,1.183],"nice":false,"zero":false},"axis":null},
"text":{"field":"t"}}}
]}
]
}
